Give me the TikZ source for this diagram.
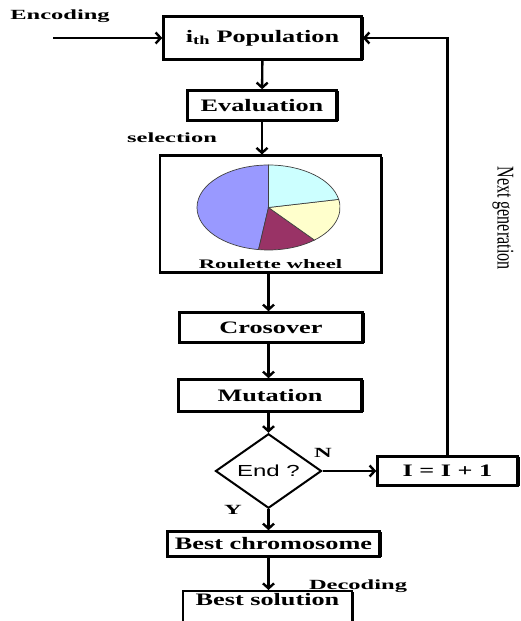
\documentclass[tikz,border=0pt]{standalone}
\usepackage{fontspec}
\setmainfont{Liberation Serif}[FakeStretch=1.5]
\newfontfamily\lblfont{Liberation Serif}[FakeStretch=1.75]
\newfontfamily\endfont{Liberation Sans}[FakeStretch=1.5]
\newfontfamily\genfont{Liberation Serif}[FakeStretch=0.67]
\usetikzlibrary{arrows.meta,shapes.geometric,shadows}

\definecolor{pieblue}{HTML}{9999FF}
\definecolor{piecyan}{HTML}{CCFFFF}
\definecolor{pieyellow}{HTML}{FFFFCC}
\definecolor{piered}{HTML}{993366}

\begin{document}
\begin{tikzpicture}[x=1pt,y=1pt,
    box/.style={draw, line width=2.5pt, fill=white, inner sep=0pt,
        general shadow={fill=black, shadow xshift=2pt, shadow yshift=-1pt},
        font=\fontsize{17.5}{20}\selectfont\bfseries},
    lbl/.style={inner sep=0pt, font=\lblfont\fontsize{14}{16}\selectfont\bfseries},
    arr/.style={line width=2.4pt, -{Straight Barb[length=5pt,width=11pt]}}]
    \useasboundingbox (0,0) rectangle (520,621);

    % Kotak utama
    \node[box, minimum width=198, minimum height=43] (pop) at (262.5,583) {i\textsubscript{th} Population};
    \node[box, minimum width=149, minimum height=30] (eval) at (262,515.5) {Evaluation};
    \node[box, minimum width=221, text height=112pt, text depth=3pt, inner ysep=1pt,
        anchor=north, font=\lblfont\fontsize{13}{15}\selectfont\bfseries] (roul) at (270.5,466.5) {Roulette wheel};
    \node[box, minimum width=183, minimum height=30] (cross) at (271,293.5) {Crosover};
    \node[box, minimum width=183, minimum height=32] (mut) at (270,225.5) {Mutation};
    \node[draw, diamond, line width=2pt, inner sep=0pt, minimum width=106, minimum height=62,
        font=\endfont\fontsize{16}{18}\selectfont] (end) at (268.5,150) {End ?};
    \node[box, minimum width=140, minimum height=29] (inc) at (447.5,150) {I = I + 1};
    \node[box, minimum width=212, minimum height=25] (best) at (273.5,77) {Best chromosome};
    \node[box, minimum width=169, text height=12pt, text depth=30pt, inner ysep=2pt,
        anchor=north] (sol) at (267.5,31) {Best solution};

    % Roda rolet
    \coordinate (pie) at (268.5,413.5);
    \foreach \a/\b/\c in {90/262/pieblue, 262/310/piered, 310/371/pieyellow, 371/450/piecyan}
        \filldraw[fill=\c, draw=black!75, line width=0.7pt] (pie) -- ++(\a:71.5 and 42.5)
            arc[start angle=\a, end angle=\b, x radius=71.5, y radius=42.5] -- cycle;

    % Label
    \node[lbl] (enclbl) at (60,605) {Encoding};
    \node[lbl] (sellbl) at (172,483) {selection};
    \node[lbl] (declbl) at (358,35) {Decoding};
    \node[lbl] (nlbl) at (323,168) {N};
    \node[lbl] (ylbl) at (233,111) {Y};
    \node[inner sep=0pt, rotate=-90, font=\genfont\fontsize{24}{26}\selectfont] (genlbl) at (503,403) {Next generation};

    % Panah
    \coordinate (enc) at (53,583);
    \draw[arr] (enc) -- (pop);
    \draw[arr] (pop) -- (eval);
    \draw[arr] (eval) -- (eval |- roul.north);
    \draw[arr] (roul.south -| end) -- (cross.north -| end);
    \draw[arr] (cross.south -| end) -- (mut.north -| end);
    \draw[arr] (mut.south -| end) -- (end);
    \draw[arr] (end) -- (best.north -| end);
    \draw[arr] (best.south -| end) -- (sol.north -| end);
    \draw[arr] (end) -- (inc);
    \draw[arr] (inc) |- (pop);
\end{tikzpicture}
\end{document}
